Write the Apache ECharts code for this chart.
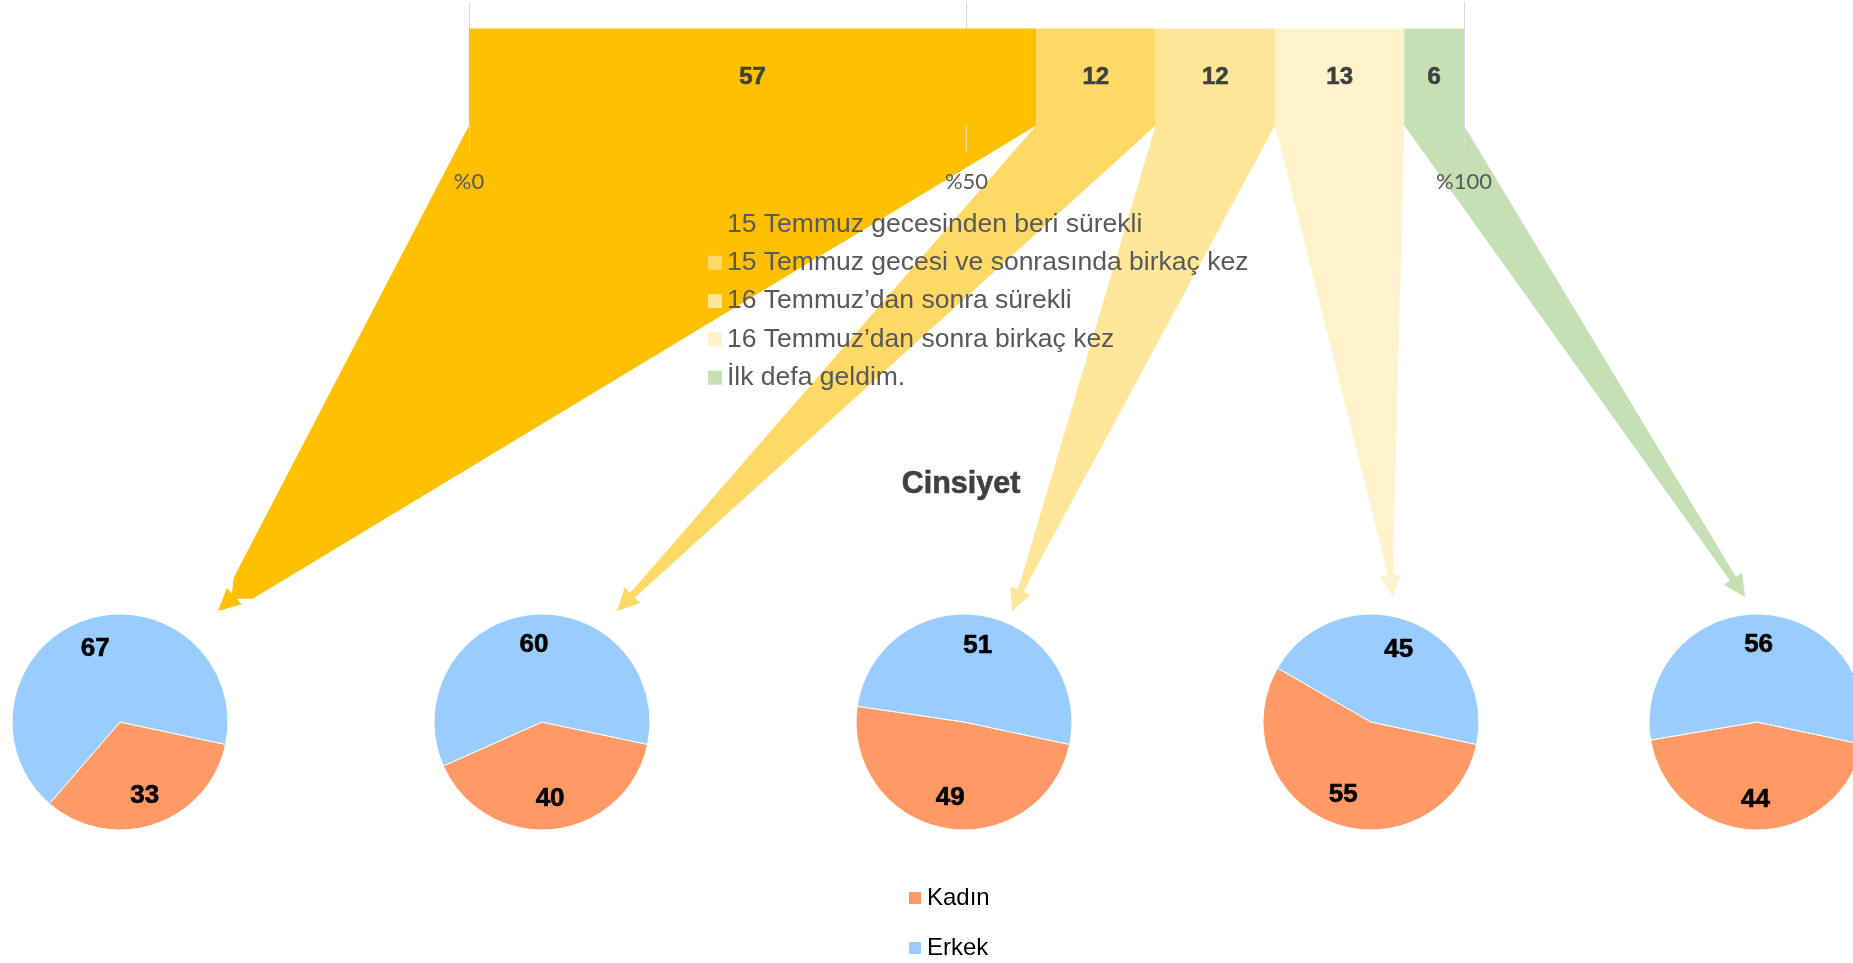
<!DOCTYPE html>
<html lang="tr">
<head>
<meta charset="utf-8">
<title>Cinsiyet</title>
<script src="https://cdn.jsdelivr.net/npm/echarts@6/dist/echarts.min.js"></script>
<style>
  html, body { margin: 0; padding: 0; background: #fff; }
  #chart { width: 1853px; height: 963px; }
</style>
</head>
<body>
<div id="chart"></div>
<script>
// veriler
var frequencyNames = [
  '15 Temmuz gecesinden beri sürekli',
  '15 Temmuz gecesi ve sonrasında birkaç kez',
  '16 Temmuz’dan sonra sürekli',
  '16 Temmuz’dan sonra birkaç kez',
  'İlk defa geldim.'
];
var frequencyValues = [57, 12, 12, 13, 6];
var genderNames = ['Kadın', 'Erkek'];
var womenValues = [33, 40, 49, 55, 44];
var menValues = [67, 60, 51, 45, 56];
var axisTicks = [0, 50, 100];

// görünüm
var barColors = ['#FFC000', '#FFD966', '#FFE699', '#FFF2CC', '#C5E0B4'];
var genderColors = ['#FF9966', '#99CCFF'];
var gridLeft = 469, gridWidth = 995, gridTop = 2, gridHeight = 150, barWidth = 97;
var pieCentersX = [120, 542, 964, 1371, 1757];
var pieCenterY = 722, pieRadius = 108;
// ok uçlarının pasta merkezine göre yeri
var arrowTips = [[98, -111], [75, -111], [48, -111], [22, -125], [-12, -125]];

var textFont = "'Liberation Sans', Arial, sans-serif";

var chart = echarts.init(document.getElementById('chart'));

var series = frequencyNames.map(function (name, i) {
  return {
    name: name,
    type: 'bar',
    stack: 'toplam',
    barWidth: barWidth,
    data: [frequencyValues[i]],
    itemStyle: { color: barColors[i] },
    label: {
      show: true,
      position: 'inside',
      color: '#404040',
      fontSize: 24,
      fontWeight: 'bold',
      fontFamily: textFont,
      textBorderColor: '#404040',
      textBorderWidth: 0.6
    },
    emphasis: { disabled: true }
  };
});

pieCentersX.forEach(function (cx, i) {
  var vals = [womenValues[i], menValues[i]];
  series.push({
    type: 'pie',
    center: [cx, pieCenterY],
    radius: pieRadius,
    startAngle: 348,
    clockwise: true,
    data: genderNames.map(function (n, k) {
      return { name: n, value: vals[k], itemStyle: { color: genderColors[k] } };
    }),
    itemStyle: { borderColor: '#fff', borderWidth: 1 },
    label: { show: false },
    labelLine: { show: false },
    emphasis: { disabled: true }
  });
  // sadece etiketler için şeffaf katman (etiketleri yarıçapın ~%70'ine iter)
  series.push({
    type: 'pie',
    center: [cx, pieCenterY],
    radius: [pieRadius * 0.38, pieRadius],
    startAngle: 348,
    clockwise: true,
    silent: true,
    data: genderNames.map(function (n, k) {
      return { name: n, value: vals[k], itemStyle: { color: 'rgba(0,0,0,0)' } };
    }),
    label: {
      show: true,
      position: 'inside',
      formatter: '{c}',
      color: '#000',
      fontSize: 26,
      fontWeight: 'bold',
      fontFamily: textFont,
      textBorderColor: '#000',
      textBorderWidth: 0.6
    },
    labelLine: { show: false },
    emphasis: { disabled: true }
  });
});

var option = {
  animation: false,
  backgroundColor: '#fff',
  title: {
    text: 'Cinsiyet',
    left: 961,
    top: 469,
    textAlign: 'center',
    padding: 0,
    textStyle: {
      fontSize: 30.5, fontWeight: 'bold', color: '#404040', fontFamily: textFont,
      textBorderColor: '#404040', textBorderWidth: 0.6
    }
  },
  legend: [{
    data: frequencyNames,
    orient: 'vertical',
    left: 708,
    top: 211,
    padding: 0,
    icon: 'rect',
    itemWidth: 14,
    itemHeight: 14,
    itemGap: 11.3,
    selectedMode: false,
    textStyle: { fontSize: 26.5, lineHeight: 26, color: '#595959', fontFamily: textFont }
  }, {
    data: genderNames.map(function (n, k) {
      return { name: n, itemStyle: { color: genderColors[k] } };
    }),
    orient: 'vertical',
    left: 907,
    top: 886,
    padding: 0,
    icon: 'rect',
    itemWidth: 14,
    itemHeight: 14,
    itemGap: 26,
    selectedMode: false,
    textStyle: { fontSize: 24, lineHeight: 24, color: '#000', fontFamily: textFont }
  }],
  grid: {
    left: gridLeft,
    width: gridWidth,
    top: gridTop,
    height: gridHeight,
    outerBoundsMode: 'none'
  },
  xAxis: {
    type: 'value',
    min: axisTicks[0],
    max: axisTicks[axisTicks.length - 1],
    interval: axisTicks[1] - axisTicks[0],
    axisLine: { show: false },
    axisTick: { show: false },
    splitLine: { show: true, lineStyle: { color: '#D9D9D9', width: 1 } },
    axisLabel: {
      formatter: '%{value}',
      color: '#595959',
      fontSize: 22,
      fontFamily: "Lato, 'Liberation Sans', sans-serif",
      margin: 19
    }
  },
  yAxis: {
    type: 'category',
    data: ['Sıklık'],
    show: false
  },
  series: series
};

chart.setOption(option);

// çubuk dilimlerinden pastalara giden oklar
var barBottom = gridTop + gridHeight / 2 + barWidth / 2;
var cum = 0;
var arrows = frequencyValues.map(function (v, i) {
  var x0 = chart.convertToPixel({ xAxisIndex: 0 }, cum);
  cum += v;
  var x1 = chart.convertToPixel({ xAxisIndex: 0 }, cum);
  var tx = pieCentersX[i] + arrowTips[i][0];
  var ty = pieCenterY + arrowTips[i][1];
  var mx = (x0 + x1) / 2, my = barBottom;
  var len = Math.sqrt((tx - mx) * (tx - mx) + (ty - my) * (ty - my));
  var dx = (tx - mx) / len, dy = (ty - my) / len;
  var px = -dy, py = dx;
  var head = 22, barb = 11, shaft = 3.5, shaftLen = 12;
  var w = Math.max(4, (x1 - x0) * 0.025);
  var nx = tx - dx * head, ny = ty - dy * head;
  var sx = nx - dx * shaftLen, sy = ny - dy * shaftLen;
  var top = barBottom - 3; // çubuğun altına biraz girsin
  return {
    type: 'polygon',
    z: -1,
    silent: true,
    shape: {
      points: [
        [x0, top],
        [x1, top],
        [x1, barBottom],
        [sx - px * w, sy - py * w],
        [nx - px * shaft, ny - py * shaft],
        [nx - px * barb, ny - py * barb],
        [tx, ty],
        [nx + px * barb, ny + py * barb],
        [nx + px * shaft, ny + py * shaft],
        [sx + px * w, sy + py * w],
        [x0, barBottom]
      ]
    },
    style: { fill: barColors[i] }
  };
});

chart.setOption({ graphic: { elements: arrows } });
</script>
</body>
</html>
